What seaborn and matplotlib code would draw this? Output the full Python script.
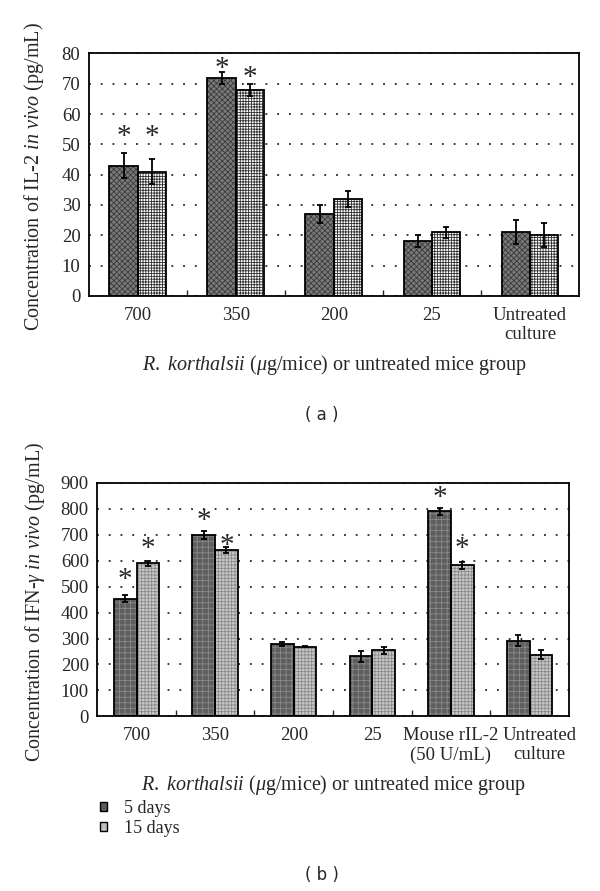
import numpy as np
import pandas as pd
import matplotlib
matplotlib.use("Agg")
import matplotlib.pyplot as plt
import matplotlib.transforms as mtrans
import seaborn as sns
from matplotlib.patches import Patch, Rectangle

# ── Data ──────────────────────────────────────────────────────────────────
groups = ["5 days", "15 days"]

cats_a = ["700", "350", "200", "25", "Untreated\nculture"]
il2_5d = [43, 72, 27, 18, 21]
il2_5d_err = [4, 2, 3, 2, 4]
il2_15d = [41, 68, 32, 21, 20]
il2_15d_err = [4, 2, 2.7, 1.8, 4]
il2_star_5d = [54, 76.5, None, None, None]
il2_star_15d = [54, 73.5, None, None, None]

cats_b = ["700", "350", "200", "25", "Mouse rIL-2\n(50 U/mL)", "Untreated\nculture"]
ifn_5d = [454, 699, 278, 231, 790, 292]
ifn_5d_err = [15, 15, 8, 20, 15, 22]
ifn_15d = [590, 640, 269, 255, 582, 238]
ifn_15d_err = [10, 12, 3, 13, 15, 16]
ifn_star_5d = [545, 772, None, None, 860, None]
ifn_star_15d = [664, 676, None, None, 664, None]

sns.set_theme(style="white")
plt.rcParams["font.family"] = ["Liberation Serif", "DejaVu Serif"]
plt.rcParams["mathtext.fontset"] = "custom"
plt.rcParams["mathtext.rm"] = "Liberation Serif"
plt.rcParams["mathtext.it"] = "Liberation Serif:italic"
plt.rcParams["hatch.linewidth"] = 0.6

FS_TICK = 13.5
FS_LAB = 14.5


def long_df(cats, v5, v15):
    return pd.DataFrame({
        "cat": cats * 2,
        "value": list(v5) + list(v15),
        "group": [groups[0]] * len(cats) + [groups[1]] * len(cats),
    })


def draw_panel(ax, cats, v5, e5, v15, e15, s5, s15, ymax, ystep, styles):
    df = long_df(cats, v5, v15)
    sns.barplot(data=df, x="cat", y="value", hue="group", order=cats,
                hue_order=groups, width=0.58, errorbar=None, legend=False,
                ax=ax, zorder=2)
    n = len(cats)
    bars = list(ax.patches)
    vals = [v5, v15]
    errs = [e5, e15]
    stars = [s5, s15]
    # the asterisk glyph sits high in its box, nudge it down a little
    star_tr = mtrans.offset_copy(ax.transData, fig=ax.figure, y=-5, units="dots")
    for g in range(2):
        fc, hatch, hc = styles[g]
        for i in range(n):
            b = bars[g * n + i]
            # hatch colour follows the edge colour, so outline separately
            b.set_facecolor(fc)
            b.set_hatch(hatch)
            b.set_edgecolor(hc)
            b.set_linewidth(0)
            ax.add_patch(Rectangle((b.get_x(), 0), b.get_width(), b.get_height(),
                                   fill=False, edgecolor="black", lw=1.3,
                                   zorder=2.5))
            xc = b.get_x() + b.get_width() / 2
            ax.errorbar(xc, vals[g][i], yerr=errs[g][i], color="black",
                        lw=1.3, capsize=2.5, capthick=1.3, zorder=3)
            if stars[g][i] is not None:
                ax.text(xc, stars[g][i], "*", ha="center", va="center",
                        fontsize=21, zorder=4, transform=star_tr)
    ax.set_ylim(0, ymax)
    ax.set_xlim(-0.5, n - 0.5)
    ax.set_yticks(np.arange(0, ymax + 1, ystep))
    ax.yaxis.grid(True, color="black", linestyle=(0, (1.2, 6.5)), lw=1.1)
    ax.set_axisbelow(True)
    ax.set_xticks(range(n))
    ax.set_xticklabels(cats, fontsize=FS_TICK, linespacing=1.15)
    ax.set_xticks(np.arange(0.5, n - 1, 1), minor=True)
    ax.tick_params(axis="x", which="major", length=0, pad=8)
    ax.tick_params(axis="x", which="minor", length=4, width=1,
                   direction="in", bottom=True)
    ax.tick_params(axis="y", length=0, labelsize=FS_TICK, pad=6)
    for sp in ax.spines.values():
        sp.set_visible(True)
        sp.set_color("black")
        sp.set_linewidth(1.3)
    ax.set_xlabel(r"$\it{R.\ korthalsii}$ ($\mu$g/mice) or untreated mice group",
                  fontsize=FS_LAB, labelpad=7)


fig = plt.figure(figsize=(6, 8.91), dpi=100)

ax_a = fig.add_axes([0.148, 0.668, 0.817, 0.272])
draw_panel(ax_a, cats_a, il2_5d, il2_5d_err, il2_15d, il2_15d_err,
           il2_star_5d, il2_star_15d, 80, 10,
           [("#7a7a7a", "xxxxxx", "#3a3a3a"), ("white", "++++++", "#303030")])
ax_a.set_ylabel(r"Concentration of IL-2 $\it{in\ vivo}$ (pg/mL)", fontsize=FS_LAB)
ax_a.yaxis.set_label_coords(-0.088, 0.49)

ax_b = fig.add_axes([0.162, 0.196, 0.786, 0.262])
draw_panel(ax_b, cats_b, ifn_5d, ifn_5d_err, ifn_15d, ifn_15d_err,
           ifn_star_5d, ifn_star_15d, 900, 100,
           [("#5e5e5e", "+++", "#8a8a8a"), ("#c8c8c8", "+++++", "#8a8a8a")])
ax_b.set_ylabel(r"Concentration of IFN-$\gamma$ $\it{in\ vivo}$ (pg/mL)",
                fontsize=FS_LAB)
ax_b.yaxis.set_label_coords(-0.107, 0.49)
# the last label sits a bit right of its bars in the original
last = ax_b.get_xticklabels()[-1]
last.set_transform(last.get_transform()
                   + mtrans.ScaledTranslation(10 / 100, 0, fig.dpi_scale_trans))

handles = [Patch(facecolor="#5a5a5a", edgecolor="black"),
           Patch(facecolor="#bdbdbd", edgecolor="black")]
fig.legend(handles, groups, loc="upper left",
           bbox_to_anchor=(0.166, 1 - 800 / 891), frameon=False,
           fontsize=13, handlelength=0.42, handleheight=0.42,
           handletextpad=0.95, labelspacing=0.15, borderpad=0, borderaxespad=0)

fig.text(322 / 600, 1 - 415 / 891, "( a )", ha="center", va="center",
         fontsize=12, family="DejaVu Sans")
fig.text(322 / 600, 1 - 875 / 891, "( b )", ha="center", va="center",
         fontsize=12, family="DejaVu Sans")

fig.savefig("out.png", dpi=100)
